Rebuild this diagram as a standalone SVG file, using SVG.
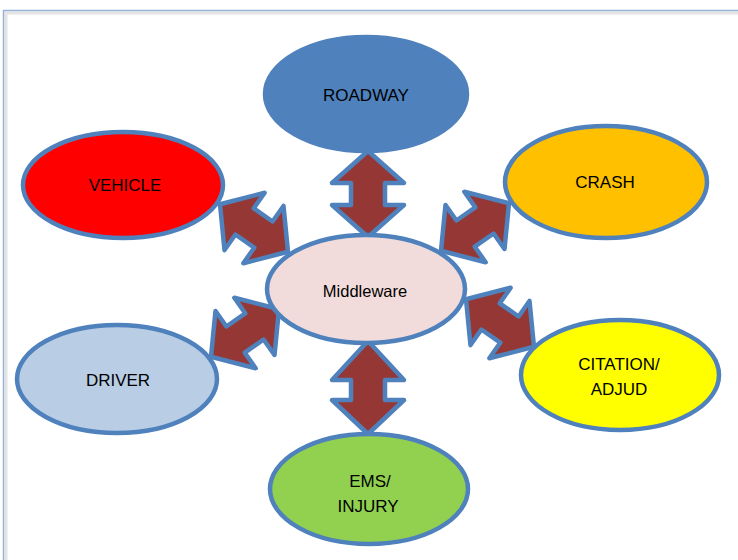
<svg xmlns="http://www.w3.org/2000/svg" width="738" height="560" viewBox="0 0 738 560">
  <defs>
    <style>
      .node { stroke: #4F81BD; stroke-width: 4.5; }
      .arrow { fill: #953735; stroke: #4F81BD; stroke-width: 4.5; stroke-linejoin: round; }
      .lbl { font-family: "Liberation Sans", Arial, sans-serif; font-size: 17px; fill: #000; text-anchor: middle; }
      .mid { font-size: 16.5px; }
    </style>
    <path id="darr" d="M-41.5,0 L-11.5,-35 L-11.5,-16 L11.5,-16 L11.5,-35 L41.5,0 L11.5,35 L11.5,16 L-11.5,16 L-11.5,35 Z"/>
  </defs>
  <rect x="0" y="0" width="738" height="560" fill="#fff"/>
  <!-- frame -->
  <g id="frame" fill="none">
    <path d="M6,570 V13 H740" stroke="#E4E4E4" stroke-width="3"/>
    <path d="M3.5,570 V10.5 H740" stroke="#95B3D7" stroke-width="1.5"/>
  </g>
  <!-- connectors -->
  <g id="connectors">
    <path class="arrow" d="M368,151 L404,183 L385,183 L385,205 L404,205 L368,237 L332,205 L351,205 L351,183 L332,183 Z"/>
    <path class="arrow" d="M368,341 L404,380 L385,380 L385,400 L404,400 L368,434 L332,400 L351,400 L351,380 L332,380 Z"/>
    <use href="#darr" class="arrow" transform="translate(254,228) rotate(35)"/>
    <use href="#darr" class="arrow" transform="translate(475,227) rotate(-35)"/>
    <use href="#darr" class="arrow" transform="translate(245,333) rotate(-35)"/>
    <use href="#darr" class="arrow" transform="translate(500,323) rotate(35)"/>
  </g>
  <g id="roadway">
    <ellipse class="node" cx="366" cy="94" rx="101" ry="57" fill="#4F81BD"/>
    <text class="lbl" x="366" y="101">ROADWAY</text>
  </g>
  <g id="vehicle">
    <ellipse class="node" cx="123" cy="185" rx="100" ry="53" fill="#FF0000"/>
    <text class="lbl" x="125" y="191">VEHICLE</text>
  </g>
  <g id="crash">
    <ellipse class="node" cx="606" cy="182" rx="101" ry="56" fill="#FFC000"/>
    <text class="lbl" x="605" y="188">CRASH</text>
  </g>
  <g id="middleware">
    <ellipse class="node" cx="366" cy="289" rx="99" ry="54" fill="#F2DCDB"/>
    <text class="lbl mid" x="365" y="297">Middleware</text>
  </g>
  <g id="driver">
    <ellipse class="node" cx="117" cy="379" rx="100" ry="54" fill="#B9CDE5"/>
    <text class="lbl" x="118" y="386">DRIVER</text>
  </g>
  <g id="citation">
    <ellipse class="node" cx="620" cy="375" rx="99" ry="55" fill="#FFFF00"/>
    <text class="lbl" x="619" y="370">CITATION/</text>
    <text class="lbl" x="619" y="395">ADJUD</text>
  </g>
  <g id="ems">
    <ellipse class="node" cx="369" cy="489" rx="99" ry="55" fill="#92D050"/>
    <text class="lbl" x="370" y="487">EMS/</text>
    <text class="lbl" x="368" y="512">INJURY</text>
  </g>
</svg>
